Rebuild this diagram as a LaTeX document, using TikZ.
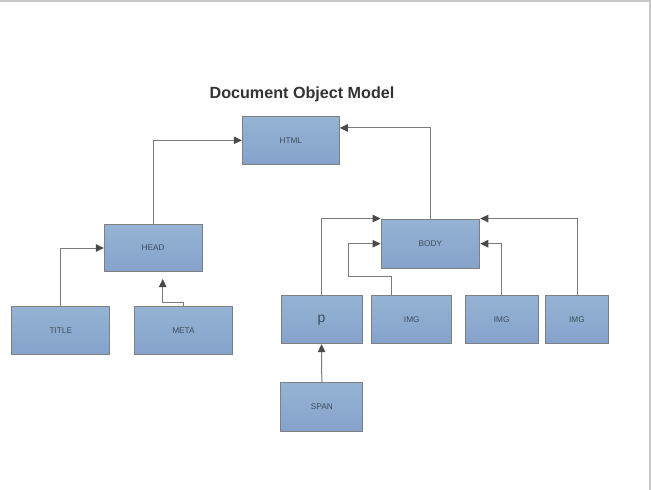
\documentclass[tikz,border=0pt]{standalone}
\usepackage{fontspec}
\setmainfont{Liberation Sans}
\usetikzlibrary{arrows.meta,calc}
\definecolor{boxtop}{HTML}{95B3D3}
\definecolor{boxbot}{HTML}{85A3CB}
\definecolor{boxline}{HTML}{7F7F7F}
\definecolor{conline}{HTML}{7A7A7A}
\definecolor{tipcol}{HTML}{4A4A4A}
\definecolor{txtcol}{HTML}{3E4C5E}
\definecolor{frame}{HTML}{C8C8C8}
\begin{document}
\begin{tikzpicture}[x=1bp,y=-1bp,
  domnode/.style={draw=boxline,line width=1bp,top color=boxtop,bottom color=boxbot,
    rectangle,inner sep=0pt,text=txtcol,font=\fontsize{8.3}{9}\selectfont},
  conn/.style={draw=conline,line width=1bp,-{Triangle[length=8bp,width=7.5bp,color=tipcol]}}]
\useasboundingbox (0,0) rectangle (651,490);
\fill[white] (0,0) rectangle (651,490);
\draw[frame,line width=2bp] (0,1) -- (651,1);
\draw[frame,line width=2bp] (650,0) -- (650,490);
\node[font=\bfseries\fontsize{16.2}{19}\selectfont,text=black!80] (ttl) at (302,94) {Document Object Model};
\node[domnode,minimum width=97bp,minimum height=47.5bp] (html) at (290.8,140.3) {HTML};
\node[domnode,minimum width=97.7bp,minimum height=47.5bp] (head) at (153.2,248) {HEAD};
\node[domnode,minimum width=98.3bp,minimum height=48.3bp] (title) at (60.8,330.2) {TITLE};
\node[domnode,minimum width=97.6bp,minimum height=48.3bp] (meta) at (183.5,330.2) {META};
\node[domnode,minimum width=98.7bp,minimum height=49.3bp] (body) at (430.4,243.7) {BODY};
\node[domnode,minimum width=81bp,minimum height=48bp,font=\fontsize{14}{16}\selectfont] (p) at (321.5,319.7) {p};
\node[domnode,minimum width=79.7bp,minimum height=48bp] (img1) at (411.8,319.7) {IMG};
\node[domnode,minimum width=73.3bp,minimum height=48bp] (img2) at (501.7,319.7) {IMG};
\node[domnode,minimum width=63.4bp,minimum height=48bp] (img3) at (577,319.7) {IMG};
\node[domnode,minimum width=81.7bp,minimum height=49bp] (span) at (321.8,406.8) {SPAN};
\coordinate (mj) at (162.7,279);
\coordinate (ij) at (348.7,276.3);
\draw[conn] (head.north) |- (html.west);
\draw[conn] (body.north) |- ($(html.north east)!0.245!(html.south east)$);
\draw[conn] (title.north) |- (head.west);
\draw[conn] (meta.north) -- ++(0,-3.5) -| (mj);
\draw[conn] (p.north) |- (body.north west);
\draw[conn] ($(img1.north west)+(20.3,0)$) |- (ij) |- (body.west);
\draw[conn] (img2.north) |- (body.east);
\draw[conn] (img3.north) |- (body.north east);
\draw[conn] (span.north) -- (p.south);
\end{tikzpicture}
\end{document}
